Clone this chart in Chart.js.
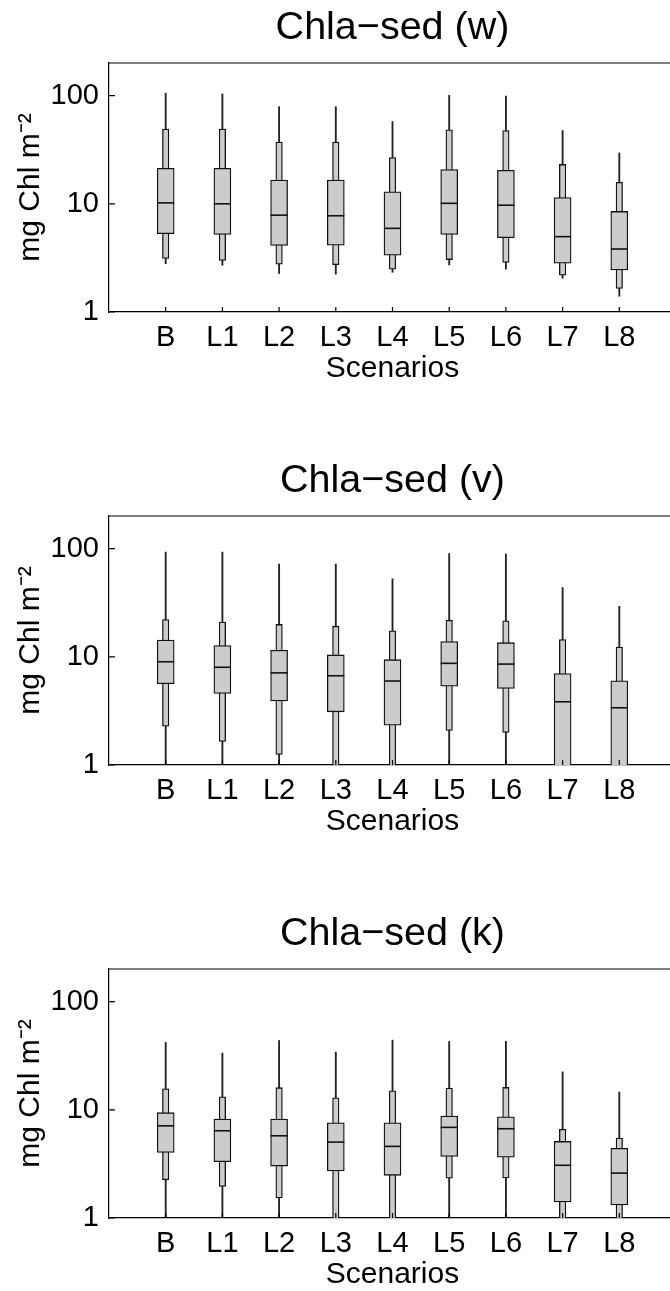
<!DOCTYPE html>
<html>
<head>
<meta charset="utf-8">
<script src="https://cdn.jsdelivr.net/npm/chart.js@4.4.1/dist/chart.umd.min.js"></script>
<style>
  html, body { margin: 0; padding: 0; background: #fff; overflow: hidden; }
  body { width: 670px; height: 1291px; position: relative; }
  .panel { position: absolute; left: 0; width: 680px; height: 453px; }
</style>
</head>
<body>
<div class="panel" style="top:0px"><canvas id="c0" width="680" height="453"></canvas></div>
<div class="panel" style="top:453px"><canvas id="c1" width="680" height="453"></canvas></div>
<div class="panel" style="top:906px"><canvas id="c2" width="680" height="453"></canvas></div>
<script>
const scenarios = ["B", "L1", "L2", "L3", "L4", "L5", "L6", "L7", "L8"];
const xPos = [1, 2, 3, 4, 5, 6, 7, 8, 9];
const yTicks = [1, 10, 100];
const titles = ["Chla\u2212sed (w)", "Chla\u2212sed (v)", "Chla\u2212sed (k)"];

// panel w
const wMax = [105, 103.5, 79, 79, 57.5, 100.6, 99, 47.5, 29.5];
const wP95 = [49, 49, 37.2, 37.2, 26.8, 48.3, 47.5, 23.1, 15.8];
const wP75 = [21.3, 21.3, 16.6, 16.6, 12.9, 20.7, 20.4, 11.4, 8.5];
const wMed = [10.2, 10.0, 7.85, 7.75, 5.93, 10.1, 9.7, 4.97, 3.82];
const wP25 = [5.3, 5.2, 4.13, 4.15, 3.35, 5.2, 4.87, 2.82, 2.45];
const wP5  = [3.12, 3.0, 2.77, 2.74, 2.49, 3.05, 2.87, 2.19, 1.65];
const wMin = [2.8, 2.7, 2.27, 2.24, 2.33, 2.72, 2.49, 2.05, 1.4];

// panel v
const vMax = [93, 93, 71.8, 71.8, 52.5, 90, 89, 43.7, 29.2];
const vP95 = [22.1, 20.9, 19.9, 19.1, 17.4, 21.7, 21.5, 14.4, 12.3];
const vP75 = [14.3, 12.7, 11.5, 10.4, 9.4, 13.8, 13.5, 7.0, 6.0];
const vMed = [9.0, 8.0, 7.1, 6.68, 5.97, 8.7, 8.56, 3.84, 3.38];
const vP25 = [5.63, 4.59, 3.9, 3.1, 2.33, 5.36, 5.1, 0.8, 0.7];
const vP5  = [2.28, 1.65, 1.25, 0.6, 0.5, 2.09, 2.0, 0.4, 0.3];
const vMin = [0.3, 0.3, 0.2, 0.2, 0.2, 0.3, 0.3, 0.1, 0.1];

// panel k
const kMax = [41.9, 33.4, 43.7, 34.1, 44, 42.8, 43, 22.4, 14.6];
const kP95 = [15.6, 13.2, 16.0, 12.9, 15.0, 15.9, 16.1, 6.59, 5.48];
const kP75 = [9.4, 8.2, 8.2, 7.59, 7.59, 8.75, 8.6, 5.1, 4.4];
const kMed = [7.11, 6.4, 5.75, 5.03, 4.59, 6.88, 6.68, 3.07, 2.6];
const kP25 = [4.04, 3.31, 3.02, 2.72, 2.48, 3.71, 3.64, 1.41, 1.32];
const kP5  = [2.26, 1.96, 1.53, 0.7, 0.6, 2.33, 2.35, 0.6, 0.5];
const kMin = [0.4, 0.3, 0.3, 0.2, 0.2, 0.4, 0.4, 0.2, 0.1];

const panels = [
  [wMin, wP5, wP25, wMed, wP75, wP95, wMax],
  [vMin, vP5, vP25, vMed, vP75, vP95, vMax],
  [kMin, kP5, kP25, kMed, kP75, kP95, kMax]
];

Chart.defaults.font.family = "'Liberation Sans', Arial, sans-serif";
Chart.defaults.color = "#000";

const FILL = "#cccccc";
const EDGE = "#111111";

// box frame + inward tick marks, like the matlab axes
const frame = {
  id: "frame",
  afterDatasetsDraw(chart) {
    const { ctx, chartArea: a, scales: { x, y } } = chart;
    ctx.save();
    ctx.strokeStyle = "#000";
    ctx.lineWidth = 1.2;
    ctx.beginPath();
    ctx.moveTo(a.left, a.top);
    ctx.lineTo(a.right, a.top);
    ctx.lineTo(a.right, a.bottom);
    x.ticks.forEach(t => {
      const px = x.getPixelForValue(t.value);
      ctx.moveTo(px, a.bottom);
      ctx.lineTo(px, a.bottom - 5);
    });
    y.ticks.forEach(t => {
      const py = y.getPixelForValue(t.value);
      ctx.moveTo(a.left, py);
      ctx.lineTo(a.left + 6, py);
    });
    ctx.stroke();
    ctx.restore();
  }
};

function range(lo, hi) {
  return xPos.map((x, i) => ({ x: x, y: [lo[i], hi[i]] }));
}

panels.forEach((p, n) => {
  const [mn, p5, p25, med, p75, p95, mx] = p;
  new Chart(document.getElementById("c" + n), {
    type: "bar",
    data: {
      datasets: [
        {
          type: "line",
          data: xPos.map((x, i) => ({ x: x, y: med[i] })),
          showLine: false,
          pointStyle: "line",
          pointRadius: 8.5,
          pointBorderWidth: 1.6,
          pointBorderColor: EDGE,
          order: 0
        },
        {
          data: range(p25, p75),
          backgroundColor: FILL,
          borderColor: EDGE,
          borderWidth: 1.3,
          borderSkipped: false,
          barThickness: 17,
          grouped: false,
          order: 1
        },
        {
          data: range(p5, p95),
          backgroundColor: FILL,
          borderColor: EDGE,
          borderWidth: 1.3,
          borderSkipped: false,
          barThickness: 6.5,
          grouped: false,
          order: 2
        },
        {
          data: range(mn, mx),
          backgroundColor: "#222",
          borderWidth: 0,
          barThickness: 1.2,
          grouped: false,
          order: 3
        }
      ]
    },
    options: {
      responsive: false,
      animation: false,
      devicePixelRatio: 1,
      layout: { autoPadding: false, padding: { left: 0, right: 4, top: 0, bottom: 0 } },
      plugins: {
        legend: { display: false },
        tooltip: { enabled: false },
        title: {
          display: true,
          text: titles[n],
          fullSize: false,
          color: "#000",
          font: { size: 39.5, weight: "normal" },
          padding: { top: 4.9, bottom: 10.7 }
        }
      },
      scales: {
        x: {
          type: "linear",
          min: 0,
          max: 10,
          offset: false,
          afterFit: s => { s.height = 141; },
          afterBuildTicks: s => { s.ticks = xPos.map(v => ({ value: v })); },
          grid: { display: false, drawTicks: false },
          border: { display: true, color: "#000", width: 1.2 },
          ticks: {
            autoSkip: false,
            maxRotation: 0,
            padding: 9,
            font: { size: 29 },
            callback: v => scenarios[v - 1]
          },
          title: {
            display: true,
            text: "Scenarios",
            font: { size: 30 },
            padding: { top: 0, bottom: 66.6 }
          }
        },
        y: {
          type: "logarithmic",
          min: 1,
          max: 200,
          afterFit: s => { s.width = 109; },
          afterBuildTicks: s => { s.ticks = yTicks.map(v => ({ value: v })); },
          grid: { display: false, drawTicks: false },
          border: { display: true, color: "#000", width: 1.2 },
          ticks: {
            padding: 10,
            font: { size: 29 },
            callback: v => String(v)
          },
          title: {
            display: true,
            text: "mg Chl m\u207B\u00B2",
            font: { size: 30 },
            padding: { top: 13, bottom: 0 }
          }
        }
      }
    },
    plugins: [frame]
  });
});
</script>
</body>
</html>
